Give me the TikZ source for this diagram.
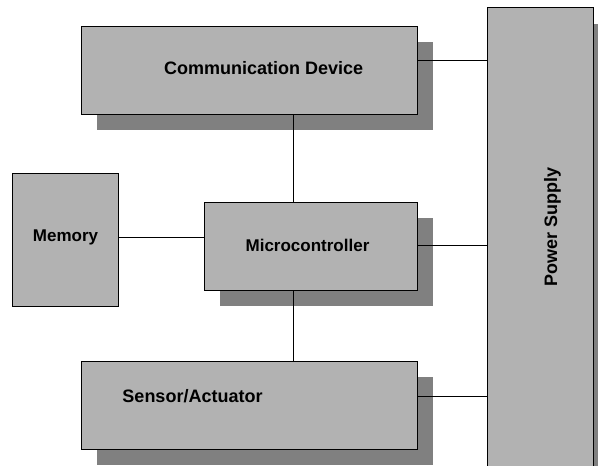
\documentclass[tikz,border=0pt]{standalone}
\usepackage{fontspec}
\setmainfont{Liberation Sans}
\usetikzlibrary{shadows}

\tikzset{
  block/.style={draw=black, fill=black!30, line width=0.8pt, inner sep=0pt,
    drop shadow={shadow xshift=16pt, shadow yshift=-16pt, opacity=1, fill=black!50}},
  flatblock/.style={draw=black, fill=black!30, line width=0.8pt, inner sep=0pt},
  lbl/.style={font=\fontsize{18}{20}\selectfont\bfseries, anchor=base, inner sep=0pt},
  link/.style={line width=0.8pt}
}

\begin{document}
\begin{tikzpicture}[x=1pt,y=-1pt]
\clip (0,0) rectangle (598,466);

% blocks
\node[block, minimum width=106pt, minimum height=492pt] (power) at (540,253.5) {};
\node[block, minimum width=336pt, minimum height=88pt] (comm) at (249,70) {};
\node[block, minimum width=213pt, minimum height=88pt] (micro) at (310.5,246) {};
\node[block, minimum width=336pt, minimum height=88pt] (sensor) at (249,405) {};
\node[flatblock, minimum width=106pt, minimum height=133pt] (mem) at (65,239.5) {};

% labels
\node[lbl] (commtxt) at (263.7,74) {Communication Device};
\node[lbl, font=\fontsize{17}{20}\selectfont\bfseries] (memtxt) at (65.5,241.7) {Memory};
\node[lbl, font=\fontsize{17}{20}\selectfont\bfseries] (microtxt) at (307.5,251) {Microcontroller};
\node[lbl] (sensortxt) at (192.5,402.7) {Sensor/Actuator};
\node[lbl, rotate=90] (powertxt) at (557,227) {Power Supply};

% connectors
\coordinate (cpy) at (0,60.3);
\coordinate (busx) at (293,0);
\draw[link] (comm.east |- cpy) -- (power.west |- cpy);
\draw[link] (comm.south -| busx) -- (micro.north -| busx);
\draw[link] (mem.east |- 0,237) -- (micro.west |- 0,237);
\draw[link] (micro.east |- 0,245) -- (power.west |- 0,245);
\draw[link] (micro.south -| busx) -- (sensor.north -| busx);
\draw[link] (sensor.east |- 0,396) -- (power.west |- 0,396);

\end{tikzpicture}
\end{document}
